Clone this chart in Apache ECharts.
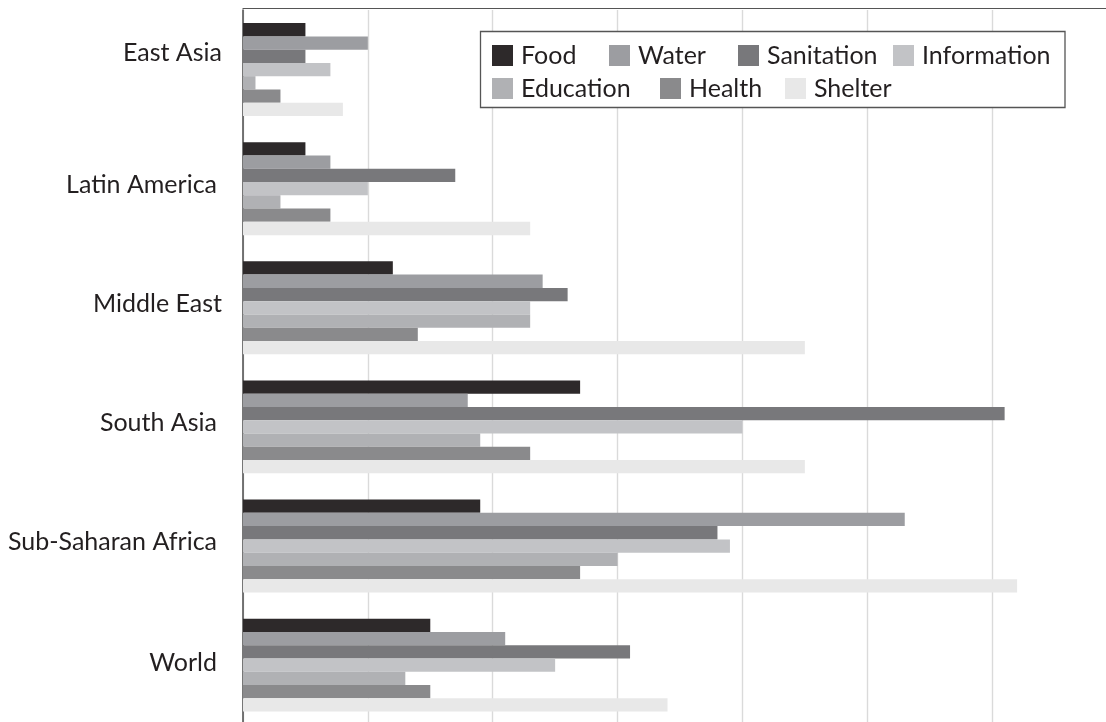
<!DOCTYPE html>
<html>
<head>
<meta charset="utf-8">
<script src="https://cdn.jsdelivr.net/npm/echarts@6/dist/echarts.min.js"></script>
<style>
html,body{margin:0;padding:0;background:#fff;}
#chart{width:1106px;height:722px;}
</style>
</head>
<body>
<div id="chart"></div>
<script>
const categories = ['East Asia', 'Latin America', 'Middle East', 'South Asia', 'Sub-Saharan Africa', 'World'];
const seriesNames = ['Food', 'Water', 'Sanitation', 'Information', 'Education', 'Health', 'Shelter'];
const food        = [5, 5, 12, 27, 19, 15];
const water       = [10, 7, 24, 18, 53, 21];
const sanitation  = [5, 17, 26, 61, 38, 31];
const information = [7, 10, 23, 40, 39, 25];
const education   = [1, 3, 23, 19, 30, 13];
const health      = [3, 7, 14, 23, 27, 15];
const shelter     = [8, 23, 45, 45, 62, 34];
const xTicks = [0, 10, 20, 30, 40, 50, 60, 70];

const values = [food, water, sanitation, information, education, health, shelter];
const colors = ['#2d292a', '#9c9da1', '#78787b', '#c2c3c6', '#b0b1b4', '#8a8a8c', '#e8e8e8'];
const FONT = 'Lato, "Open Sans", sans-serif';
const TXT = '#231f20';

// per-label placement tweaks: right padding and vertical spacer height
const padRight = [0, 5, 0, 5, 5, 5];
const spacer   = [34, 7, 8, 7, 9, 4];
const rich = {};
categories.forEach((c, i) => {
  rich['t' + i] = { fontFamily: FONT, fontSize: 25, color: TXT, lineHeight: 30, padding: [0, padRight[i], 0, 0], align: 'right' };
  rich['s' + i] = { fontSize: 1, lineHeight: spacer[i], align: 'right' };
});

// legend item placement
const legendPos = [[492,43],[609,43],[738,43],[893,43],[492,76],[660,76],[785,76]];
const legends = seriesNames.map((n, i) => ({
  data: [n], left: legendPos[i][0], top: legendPos[i][1], padding: 0,
  itemWidth: 21, itemHeight: 21, icon: 'rect', z: 5,
  textStyle: { fontFamily: FONT, fontSize: 25, color: TXT, lineHeight: 21, padding: [0,0,0,3] }
}));

const chart = echarts.init(document.getElementById('chart'), null, { renderer: 'canvas' });
chart.setOption({
  animation: false,
  backgroundColor: '#fff',
  grid: { left: 243, top: 10, width: 874, height: 714.7, containLabel: false, outerBoundsMode: 'none' },
  xAxis: {
    type: 'value', min: xTicks[0], max: xTicks[xTicks.length - 1], interval: 10,
    position: 'top', offset: 1.5,
    axisLine: { show: true, lineStyle: { color: '#555', width: 1.2 } },
    axisTick: { show: false }, axisLabel: { show: false },
    splitLine: { show: true, lineStyle: { color: '#dadada', width: 1.4 } }
  },
  yAxis: {
    type: 'category', inverse: true, data: categories,
    axisLine: { show: true, lineStyle: { color: '#555', width: 1.6 } },
    axisTick: { show: false },
    axisLabel: {
      margin: 21, fontFamily: FONT, fontSize: 25, color: TXT,
      formatter: (v, i) => '{t' + i + '|' + v + '}\n{s' + i + '|}',
      rich: rich
    },
    splitLine: { show: false }
  },
  legend: legends,
  graphic: { elements: [{
    type: 'rect', z: 3, shape: { x: 480.5, y: 31.5, width: 584.5, height: 76 },
    style: { fill: '#fff', stroke: '#555', lineWidth: 1.3 }
  }]},
  series: seriesNames.map((n, i) => ({
    name: n, type: 'bar', data: values[i], barGap: '0%', barCategoryGap: '22%',
    itemStyle: { color: colors[i] }
  }))
});
</script>
</body>
</html>
